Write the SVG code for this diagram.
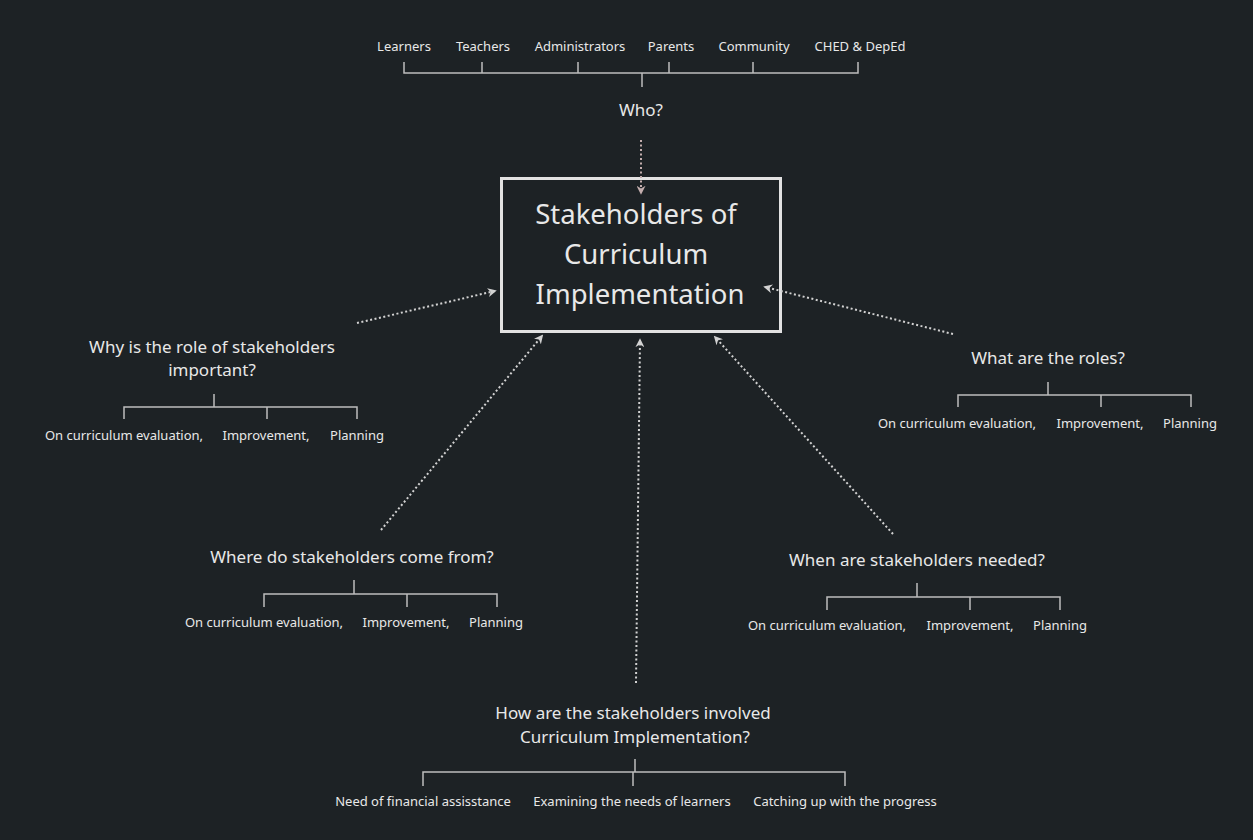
<svg xmlns="http://www.w3.org/2000/svg" width="1253" height="840" viewBox="0 0 1253 840">
<defs>
<style>
.t{font-family:"Noto Sans","Open Sans",sans-serif;fill:#e8e8e8;text-anchor:middle}
.q{font-size:17px}
.l{font-size:13px}
.title{font-size:27.5px}
.br{fill:none;stroke:#bdbdbd;stroke-width:1.5}
.dot{fill:none;stroke:#d2d2d2;stroke-width:2;stroke-dasharray:2 2.5;marker-end:url(#ah)}
.dotp{stroke:#c4aeae;marker-end:url(#ahp)}
</style>
<marker id="ah" viewBox="0 0 10 10" refX="8" refY="5" markerWidth="4.5" markerHeight="4.5" orient="auto" markerUnits="strokeWidth">
<path d="M0,0 L10,5 L0,10 L3,5 Z" fill="#d2d2d2"/>
</marker>
<marker id="ahp" viewBox="0 0 10 10" refX="8" refY="5" markerWidth="4.5" markerHeight="4.5" orient="auto" markerUnits="strokeWidth">
<path d="M0,0 L10,5 L0,10 L3,5 Z" fill="#c4aeae"/>
</marker>
</defs>
<rect width="1253" height="840" fill="#1d2225"/>

<g id="center">
<rect x="501.5" y="178.5" width="279" height="153" fill="#1d2225" stroke="#e2e2e2" stroke-width="3"/>
<text class="t title" x="636" y="224">Stakeholders of</text>
<text class="t title" x="636" y="264">Curriculum</text>
<text class="t title" x="640" y="304">Implementation</text>
</g>

<g id="connectors">
<line class="dot dotp" x1="641" y1="140" x2="641" y2="193"/>
<line class="dot" x1="357" y1="323" x2="495" y2="291"/>
<line class="dot" x1="953" y1="334" x2="765" y2="287"/>
<line class="dot" x1="381" y1="530" x2="542" y2="336"/>
<line class="dot" x1="636" y1="683" x2="640" y2="340"/>
<line class="dot" x1="893" y1="534" x2="715" y2="337"/>
</g>

<g id="who">
<text class="t l" x="404" y="51">Learners</text>
<text class="t l" x="483" y="51">Teachers</text>
<text class="t l" x="580" y="51">Administrators</text>
<text class="t l" x="671" y="51">Parents</text>
<text class="t l" x="754" y="51">Community</text>
<text class="t l" x="860" y="51">CHED &amp; DepEd</text>
<path class="br" d="M404,62 V73 H858 V62 M482,62 V73 M578,62 V73 M669,62 V73 M753,62 V73 M642,73 V87"/>
<text class="t q" x="641" y="116">Who?</text>
</g>

<g id="why">
<text class="t q" x="212" y="353">Why is the role of stakeholders</text>
<text class="t q" x="212" y="376">important?</text>
<path class="br" d="M214,394 V407 M124,419 V407 H357 V419 M267,407 V419"/>
<text class="t l" x="124" y="440">On curriculum evaluation,</text>
<text class="t l" x="266" y="440">Improvement,</text>
<text class="t l" x="357" y="440">Planning</text>
</g>

<g id="what">
<text class="t q" x="1048" y="364">What are the roles?</text>
<path class="br" d="M1048,382 V395 M958,407 V395 H1191 V407 M1101,395 V407"/>
<text class="t l" x="957" y="428">On curriculum evaluation,</text>
<text class="t l" x="1100" y="428">Improvement,</text>
<text class="t l" x="1190" y="428">Planning</text>
</g>

<g id="where">
<text class="t q" x="352" y="563">Where do stakeholders come from?</text>
<path class="br" d="M354,580 V594 M264,607 V594 H497 V607 M407,594 V607"/>
<text class="t l" x="264" y="627">On curriculum evaluation,</text>
<text class="t l" x="406" y="627">Improvement,</text>
<text class="t l" x="496" y="627">Planning</text>
</g>

<g id="when">
<text class="t q" x="917" y="566">When are stakeholders needed?</text>
<path class="br" d="M917,583 V597 M827,610 V597 H1060 V610 M970,597 V610"/>
<text class="t l" x="827" y="630">On curriculum evaluation,</text>
<text class="t l" x="970" y="630">Improvement,</text>
<text class="t l" x="1060" y="630">Planning</text>
</g>

<g id="how">
<text class="t q" x="633" y="719">How are the stakeholders involved</text>
<text class="t q" x="635" y="743">Curriculum Implementation?</text>
<path class="br" d="M635,759 V772 M423,786 V772 H845 V786 M633,772 V786"/>
<text class="t l" x="423" y="806">Need of financial assisstance</text>
<text class="t l" x="632" y="806">Examining the needs of learners</text>
<text class="t l" x="845" y="806">Catching up with the progress</text>
</g>
</svg>
